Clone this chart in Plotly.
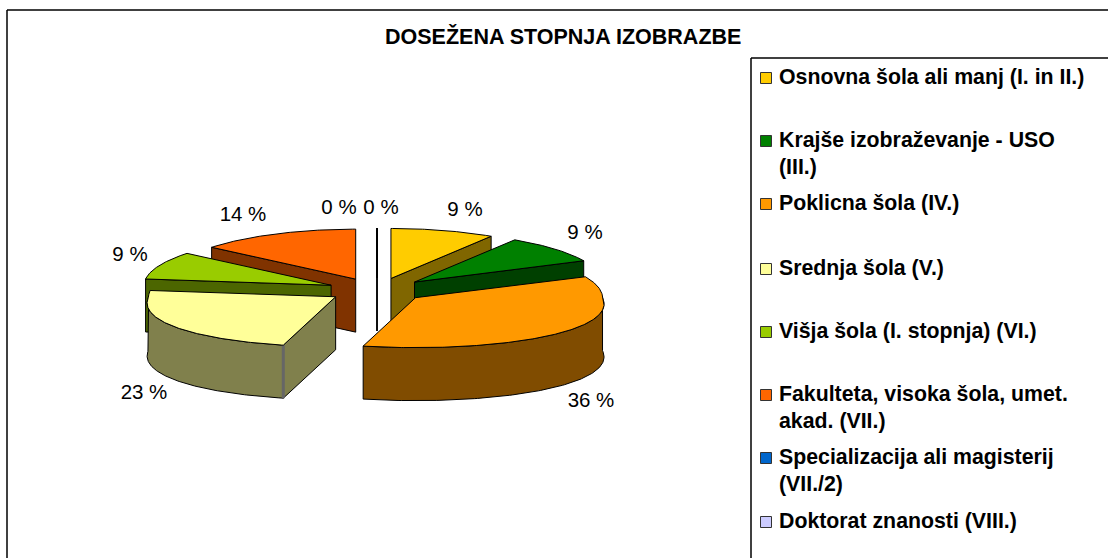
import numpy as np
import plotly.graph_objects as go

# ---- data ----
categories = [
    "Osnovna šola ali manj (I. in II.)",
    "Krajše izobraževanje - USO|(III.)",
    "Poklicna šola (IV.)",
    "Srednja šola (V.)",
    "Višja šola (I. stopnja) (VI.)",
    "Fakulteta, visoka šola, umet.|akad. (VII.)",
    "Specializacija ali magisterij|(VII./2)",
    "Doktorat znanosti (VIII.)",
]
values = [9, 9, 36, 23, 9, 14, 0, 0]
title_text = "DOSEŽENA STOPNJA IZOBRAZBE"

# ---- styling ----
colors = ["#FFCC00", "#008000", "#FF9900", "#FFFF99", "#99CC00", "#FF6600", "#0066CC", "#CCCCFF"]
shades = ["#806600", "#004000", "#804C00", "#80804C", "#4C6600", "#803300", "#003366", "#666680"]
paint_order = [5, 6, 7, 0, 1, 4, 3, 2]
label_xy = [(465, 211), (585, 234), (591, 402), (144, 394), (130, 256), (243, 216), (339, 209), (381, 209)]
legend_y = [78, 141, 204, 269, 332, 395, 458, 522]
CX, CY, RX, RY, DEPTH, EX, EY, FRONT = 377, 290, 187, 50, 53, 50, 12, 0.13
FONT = "Liberation Sans, Arial, sans-serif"

total = sum(values)
edges = np.cumsum([0] + values) / total * 360.0
starts, ends = edges[:-1], edges[1:]


def rim(deg):
    t = np.radians(deg)
    c = np.cos(t)
    widen = 1 + FRONT * np.clip(-c, 0, None)
    return RX * np.sin(t) * widen, -RY * c


fig = go.Figure()


def poly(xs, ys, fill, line="#000000", width=1):
    fig.add_trace(go.Scatter(x=list(xs), y=list(ys), mode="lines", fill="toself", fillcolor=fill,
                             line=dict(color=line, width=width), hoverinfo="skip", showlegend=False))


for i in paint_order:
    a, b = starts[i], ends[i]
    mid = (a + b) / 2
    ax = CX + EX * np.sin(np.radians(mid))
    ay = CY - EY * np.cos(np.radians(mid))
    arc = np.linspace(a, b, max(int(b - a) * 2, 2))
    rx, ry = rim(arc)
    rx, ry = ax + rx, ay + ry

    # radial walls that face the viewer
    if 0 < b < 180 or a == b:
        ex, ey = rim(b)
        poly([ax, ax + ex, ax + ex, ax, ax], [ay, ay + ey, ay + ey + DEPTH, ay + DEPTH, ay], shades[i])
    if 180 < a < 360:
        ex, ey = rim(a)
        poly([ax, ax + ex, ax + ex, ax, ax], [ay, ay + ey, ay + ey + DEPTH, ay + DEPTH, ay], shades[i])

    # curved outer wall on the near side
    lo, hi = max(a, 90.0), min(b, 270.0)
    if hi > lo:
        wall = np.linspace(lo, hi, 120)
        wx, wy = rim(wall)
        wx, wy = ax + wx, ay + wy
        poly(np.r_[wx, wx[::-1], wx[0]], np.r_[wy, wy[::-1] + DEPTH, wy[0]], shades[i])

    # corner edge between curved and radial wall on the largest left-hand slice
    if 180 < a < 270:
        ex, ey = rim(a)
        fig.add_trace(go.Scatter(x=[ax + ex, ax + ex], y=[ay + ey, ay + ey + DEPTH], mode="lines",
                                 line=dict(color="#666666", width=3), hoverinfo="skip", showlegend=False))

    # top face
    poly(np.r_[ax, rx, ax], np.r_[ay, ry, ay], colors[i])

# percentage labels
fig.add_trace(go.Scatter(
    x=[p[0] for p in label_xy], y=[p[1] for p in label_xy], mode="text",
    text=[f"{v} %" for v in values], textposition="middle center",
    textfont=dict(family=FONT, size=20.5, color="#000000"), hoverinfo="skip", showlegend=False))

# legend keys
fig.add_trace(go.Scatter(
    x=[766] * len(categories), y=legend_y, mode="markers",
    marker=dict(symbol="square", size=11, color=colors, line=dict(color="#333333", width=1)),
    hoverinfo="skip", showlegend=False))

annotations = [dict(x=563, y=36, text=f"<b>{title_text}</b>", showarrow=False, xref="x", yref="y",
                    font=dict(family=FONT, size=21.5, color="#000000"))]
for name, y0 in zip(categories, legend_y):
    for j, part in enumerate(name.split("|")):
        annotations.append(dict(x=777, y=y0 - 1 + j * 26.5, text=f"<b>{part}</b>", showarrow=False,
                                xref="x", yref="y", xanchor="left",
                                font=dict(family=FONT, size=21.3, color="#000000")))

frame = dict(color="#000000", width=1.5)
fig.update_layout(
    width=1108, height=558, margin=dict(l=0, r=0, t=0, b=0), autosize=False,
    paper_bgcolor="#FFFFFF", plot_bgcolor="#FFFFFF",
    xaxis=dict(range=[0, 1108], visible=False, fixedrange=True),
    yaxis=dict(range=[558, 0], visible=False, fixedrange=True),
    annotations=annotations,
    shapes=[
        dict(type="line", xref="x", yref="y", x0=7, y0=10, x1=1108, y1=10, line=frame),
        dict(type="line", xref="x", yref="y", x0=7, y0=10, x1=7, y1=558, line=frame),
        dict(type="line", xref="x", yref="y", x0=751, y0=58, x1=1108, y1=58, line=frame),
        dict(type="line", xref="x", yref="y", x0=751, y0=58, x1=751, y1=558, line=frame),
    ],
)
fig.write_html("out.html", config={"displayModeBar": False},
               post_script="document.body.style.margin='0';document.body.style.overflow='hidden';")
